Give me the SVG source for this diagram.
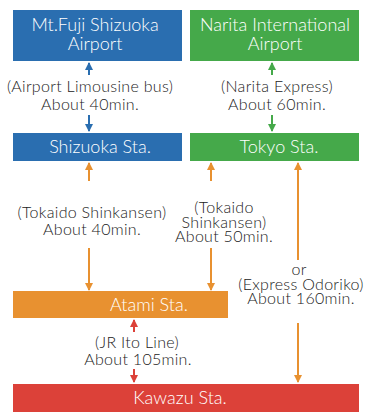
<svg xmlns="http://www.w3.org/2000/svg" width="366" height="416" viewBox="0 0 366 416">
<defs>
<style>
.t{font-family:Lato,"Open Sans",sans-serif;font-size:18px;font-weight:300;fill:#fff;text-anchor:middle}
.l{font-family:Lato,"Open Sans",sans-serif;font-size:16px;font-weight:300;letter-spacing:0.3px;fill:#222;text-anchor:middle}
.cb{stroke:#2a6eb0;stroke-width:2;fill:none}
.cg{stroke:#45a94a;stroke-width:2;fill:none}
.co{stroke:#e89130;stroke-width:2;fill:none}
.cr{stroke:#dc4139;stroke-width:2;fill:none}
</style>
<marker id="mb" viewBox="0 0 8 8" refX="7" refY="4" markerWidth="8" markerHeight="8" markerUnits="userSpaceOnUse" orient="auto"><path d="M0,0 L8,4 L0,8 z" fill="#2a6eb0"/></marker>
<marker id="mg" viewBox="0 0 8 8" refX="7" refY="4" markerWidth="8" markerHeight="8" markerUnits="userSpaceOnUse" orient="auto"><path d="M0,0 L8,4 L0,8 z" fill="#45a94a"/></marker>
<marker id="mo" viewBox="0 0 8 8" refX="7" refY="4" markerWidth="8" markerHeight="8" markerUnits="userSpaceOnUse" orient="auto"><path d="M0,0 L8,4 L0,8 z" fill="#e89130"/></marker>
<marker id="mr" viewBox="0 0 8 8" refX="7" refY="4" markerWidth="8" markerHeight="8" markerUnits="userSpaceOnUse" orient="auto"><path d="M0,0 L8,4 L0,8 z" fill="#dc4139"/></marker>
</defs>
<rect width="366" height="416" fill="#fff"/>
<g id="fuji">
<rect x="13" y="10" width="169" height="51" fill="#2a6eb0"/>
<text class="t" x="95" y="31">Mt.Fuji Shizuoka</text>
<text class="t" x="95" y="50">Airport</text>
</g>
<g id="narita">
<rect x="190" y="10" width="169" height="51" fill="#45a94a"/>
<text class="t" x="275" y="31">Narita International</text>
<text class="t" x="275" y="50">Airport</text>
</g>
<g id="shizuoka">
<rect x="13" y="133" width="169" height="28" fill="#2a6eb0"/>
<text class="t" x="100" y="153">Shizuoka Sta.</text>
</g>
<g id="tokyo">
<rect x="190" y="133" width="169" height="28" fill="#45a94a"/>
<text class="t" x="279" y="153">Tokyo Sta.</text>
</g>
<g id="atami">
<rect x="13" y="291" width="215" height="27" fill="#e89130"/>
<text class="t" x="149" y="311">Atami Sta.</text>
</g>
<g id="kawazu">
<rect x="13" y="384" width="346" height="28" fill="#dc4139"/>
<text class="t" x="180" y="404">Kawazu Sta.</text>
</g>
<g id="connectors">
<line class="cb" x1="89" y1="75" x2="89" y2="63" marker-end="url(#mb)"/>
<line class="cb" x1="89" y1="115" x2="89" y2="131" marker-end="url(#mb)"/>
<line class="cg" x1="272" y1="75" x2="272" y2="63" marker-end="url(#mg)"/>
<line class="cg" x1="272" y1="115" x2="272" y2="131" marker-end="url(#mg)"/>
<line class="co" x1="89" y1="181" x2="89" y2="163" marker-end="url(#mo)"/>
<line class="co" x1="89" y1="248" x2="89" y2="290" marker-end="url(#mo)"/>
<line class="co" x1="211" y1="181" x2="211" y2="163" marker-end="url(#mo)"/>
<line class="co" x1="211" y1="248" x2="211" y2="290" marker-end="url(#mo)"/>
<line class="co" x1="298" y1="260" x2="298" y2="163" marker-end="url(#mo)"/>
<line class="co" x1="298" y1="323" x2="298" y2="382" marker-end="url(#mo)"/>
<line class="cr" x1="134" y1="332" x2="134" y2="320" marker-end="url(#mr)"/>
<line class="cr" x1="134" y1="369" x2="134" y2="382" marker-end="url(#mr)"/>
</g>
<g id="labels">
<text class="l" x="90" y="92">(Airport Limousine bus)</text>
<text class="l" x="90" y="110">About 40min.</text>
<text class="l" x="277" y="92">(Narita Express)</text>
<text class="l" x="277" y="110">About 60min.</text>
<text class="l" x="92" y="218">(Tokaido Shinkansen)</text>
<text class="l" x="92" y="235">About 40min.</text>
<text class="l" x="224" y="213">(Tokaido</text>
<text class="l" x="224" y="228">Shinkansen)</text>
<text class="l" x="224" y="242">About 50min.</text>
<text class="l" x="299" y="275">or</text>
<text class="l" x="301" y="290">(Express Odoriko)</text>
<text class="l" x="301" y="304">About 160min.</text>
<text class="l" x="137" y="348">(JR Ito Line)</text>
<text class="l" x="138" y="365">About 105min.</text>
</g>
</svg>
